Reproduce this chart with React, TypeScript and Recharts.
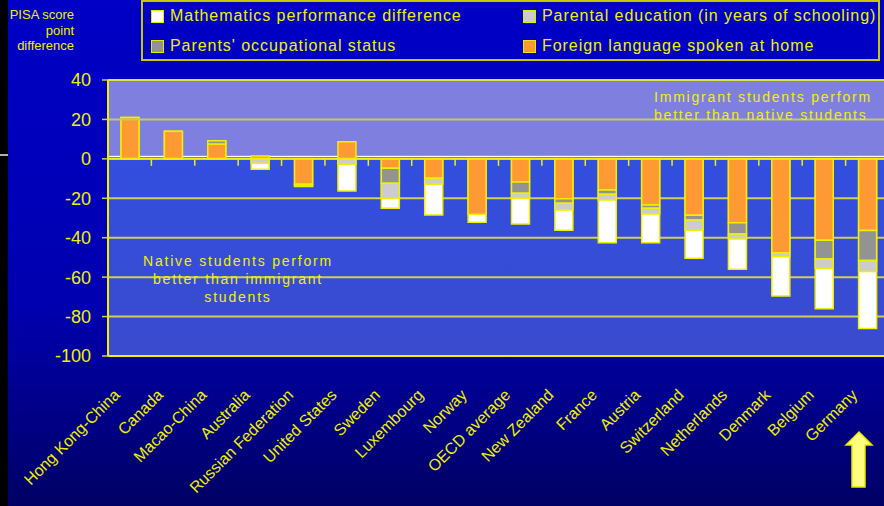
import React from "react";
import {
  BarChart,
  Bar,
  XAxis,
  YAxis,
  CartesianGrid,
  ReferenceArea,
  ReferenceLine,
  Legend,
} from "recharts";

const FONT = "'Liberation Sans', Arial, sans-serif";
const YELLOW = "#F0F000";

const countries = [
  "Hong Kong-China",
  "Canada",
  "Macao-China",
  "Australia",
  "Russian Federation",
  "United States",
  "Sweden",
  "Luxembourg",
  "Norway",
  "OECD average",
  "New Zealand",
  "France",
  "Austria",
  "Switzerland",
  "Netherlands",
  "Denmark",
  "Belgium",
  "Germany",
];

// total score gap (white bar)
const mathDiff = [21, 14, 9, -5.3, -14, -16.3, -25.1, -28.5, -32.2, -33, -36.2, -42.5, -42.5, -50.4, -56, -69.6, -76, -86.1];
// parts of the gap, stacked from zero
const foreignLanguage = [21, 14, 7.5, 1.5, -12.9, 8.7, -4.8, -9.9, -28.1, -11.7, -20.2, -15.8, -23.4, -28.6, -32.4, -47.6, -41.3, -36.4];
const occupationalStatus = [0, 0, 1.7, 0, 0, 0, -7.6, 0, 0, -5.8, -2.3, -2.2, -1.7, -2.4, -5.7, 0, -9.5, -15.2];
const parentalEducation = [0, 0, 0, -2.2, -1, -2.7, -7.6, -3, 0, -2.5, -3.4, -2.9, -2.9, -5.2, -2.5, -2, -4.7, -5.6];

const yTicks = [40, 20, 0, -20, -40, -60, -80, -100];

const legendItems = [
  { label: "Mathematics performance difference", color: "#FFFFFF" },
  { label: "Parental education (in years of schooling)", color: "#CCCCCC" },
  { label: "Parents' occupational status", color: "#939393" },
  { label: "Foreign language spoken at home", color: "#FF9933" },
];

const data = countries.map((country, i) => ({
  country,
  math: mathDiff[i],
  foreign: foreignLanguage[i],
  occupation: occupationalStatus[i],
  parental: parentalEducation[i],
}));

const CountryTick = (props: any) => {
  const { x, y, payload } = props;
  const ax = x - 9;
  const ay = y + 40;
  return (
    <text
      x={ax}
      y={ay}
      transform={`rotate(-45 ${ax} ${ay})`}
      textAnchor="end"
      fill={YELLOW}
      fontSize={16}
      fontFamily={FONT}
    >
      {payload.value}
    </text>
  );
};

// zero line with small ticks between categories
const ZeroAxis = (props: any) => {
  const { x1, x2, y1 } = props;
  const step = (x2 - x1) / countries.length;
  const ticks = countries.slice(1).map((_, i) => x1 + (i + 1) * step);
  return (
    <g>
      <line x1={x1} x2={x2} y1={y1} y2={y1} stroke={YELLOW} strokeWidth={2} />
      {ticks.map((tx) => (
        <line key={tx} x1={tx} x2={tx} y1={y1} y2={y1 + 7} stroke={YELLOW} strokeWidth={1.5} />
      ))}
    </g>
  );
};

const LegendBox = () => (
  <div
    style={{
      position: "relative",
      width: 739,
      height: 61,
      boxSizing: "border-box",
      border: "2px solid #C8C800",
      background: "#0000C4",
    }}
  >
    {legendItems.map((item, i) => (
      <div
        key={item.label}
        style={{
          position: "absolute",
          left: i % 2 === 0 ? 8 : 380,
          top: i < 2 ? 4 : 34,
          height: 20,
          display: "flex",
          alignItems: "center",
          whiteSpace: "nowrap",
        }}
      >
        <span
          style={{
            display: "inline-block",
            width: 11,
            height: 11,
            background: item.color,
            border: "1.5px solid #E8E800",
            marginRight: 6,
          }}
        />
        <span
          style={{
            color: YELLOW,
            fontSize: 16,
            letterSpacing: 0.95,
            fontFamily: FONT,
          }}
        >
          {item.label}
        </span>
      </div>
    ))}
  </div>
);

const annoStyle: React.CSSProperties = {
  position: "absolute",
  color: YELLOW,
  fontSize: 14,
  letterSpacing: 1.8,
  lineHeight: "18px",
  fontFamily: FONT,
  whiteSpace: "nowrap",
};

const App = () => {
  return (
    <div
      style={{
        position: "fixed",
        left: 0,
        top: 0,
        width: 884,
        height: 506,
        overflow: "hidden",
        background: "linear-gradient(180deg, #0000C6 0%, #0000B0 60%, #000064 100%)",
        fontFamily: FONT,
      }}
    >
      <div style={{ position: "absolute", left: 0, top: 0, width: 8, height: 506, background: "#000" }} />
      <div style={{ position: "absolute", left: 0, top: 154, width: 8, height: 2, background: "#B0B0B0" }} />
      <div
        style={{
          position: "absolute",
          left: 0,
          top: 7,
          width: 74,
          textAlign: "right",
          color: YELLOW,
          fontSize: 13,
          lineHeight: "15.5px",
        }}
      >
        PISA score
        <br />
        point
        <br />
        difference
      </div>

      <BarChart
        width={900}
        height={506}
        data={data}
        margin={{ top: 80, right: 11, bottom: 0, left: 0 }}
        stackOffset="sign"
      >
        <defs>
          <linearGradient id="plotBg" x1="0" y1="0" x2="0" y2="1">
            <stop offset="0" stopColor="#2F50E6" />
            <stop offset="1" stopColor="#3A4BCE" />
          </linearGradient>
        </defs>
        <CartesianGrid
          vertical={false}
          stroke="#D0D050"
          strokeWidth={2}
          fill="url(#plotBg)"
          fillOpacity={1}
        />
        <ReferenceArea y1={1.6} y2={40} fill="#7F7FE0" fillOpacity={1} />
        <ReferenceArea y1={1} y2={1.6} fill="#FFFFFF" fillOpacity={1} />
        <XAxis
          dataKey="country"
          interval={0}
          height={150}
          tickSize={0}
          tickMargin={0}
          tickLine={false}
          axisLine={{ stroke: YELLOW, strokeWidth: 2 }}
          tick={<CountryTick />}
        />
        <XAxis xAxisId={1} dataKey="country" hide />
        <YAxis
          width={108}
          domain={[-100, 40]}
          ticks={yTicks}
          interval={0}
          tickSize={6}
          tickMargin={11}
          axisLine={{ stroke: YELLOW, strokeWidth: 2 }}
          tickLine={{ stroke: "#D0D040", strokeWidth: 1.5 }}
          tick={{ fill: YELLOW, fontSize: 18, fontFamily: FONT }}
        />
        <Legend
          layout="horizontal"
          verticalAlign="middle"
          align="center"
          wrapperStyle={{ top: 0, left: 141, width: 739, height: 61 }}
          content={() => <LegendBox />}
        />
        <Bar
          dataKey="math"
          name="Mathematics performance difference"
          fill="#FFFFFF"
          stroke="#F0F000"
          strokeWidth={1.5}
          barSize={18}
          isAnimationActive={false}
        />
        <Bar
          xAxisId={1}
          dataKey="foreign"
          stackId="parts"
          name="Foreign language spoken at home"
          fill="#FF9933"
          stroke="#F0F000"
          strokeWidth={1.5}
          barSize={18}
          isAnimationActive={false}
        />
        <Bar
          xAxisId={1}
          dataKey="occupation"
          stackId="parts"
          name="Parents' occupational status"
          fill="#939393"
          stroke="#F0F000"
          strokeWidth={1.5}
          barSize={18}
          isAnimationActive={false}
        />
        <Bar
          xAxisId={1}
          dataKey="parental"
          stackId="parts"
          name="Parental education (in years of schooling)"
          fill="#CCCCCC"
          stroke="#F0F000"
          strokeWidth={1.5}
          barSize={18}
          isAnimationActive={false}
        />
        <ReferenceLine y={20} stroke="#C8C860" strokeWidth={2} />
        <ReferenceLine y={40} stroke="#E0E040" strokeWidth={2} />
        <ReferenceLine y={0} shape={<ZeroAxis />} />
      </BarChart>

      <div style={{ ...annoStyle, left: 654, top: 88 }}>
        Immigrant students perform
        <br />
        better than native students
      </div>
      <div style={{ ...annoStyle, left: 138, top: 252, width: 200, textAlign: "center" }}>
        Native students perform
        <br />
        better than immigrant
        <br />
        students
      </div>

      <svg style={{ position: "absolute", left: 0, top: 0 }} width={884} height={506}>
        <polygon
          points="859,432 872,445 865,445 865,487 852,487 852,445 846,445"
          fill="#FFFF80"
          stroke="#E8E800"
          strokeWidth={1.5}
        />
      </svg>
    </div>
  );
};

export default App;
